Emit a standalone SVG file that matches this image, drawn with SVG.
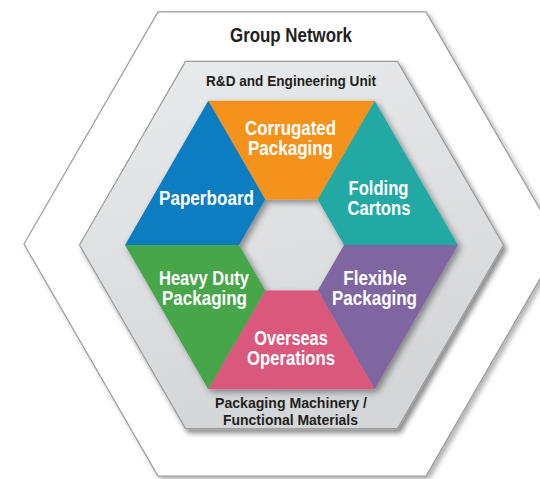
<svg xmlns="http://www.w3.org/2000/svg" width="540" height="479" viewBox="0 0 540 479">
<style>
.lbl{font-family:"Liberation Sans",Arial,sans-serif;font-weight:bold;text-anchor:middle}
.w{fill:#ffffff;font-size:20px}
.d{fill:#231f20}
.hexline{stroke:#9b9b9b;stroke-width:1.2;stroke-linejoin:miter}
</style>
<defs>
<filter id="shOuter" x="-10%" y="-10%" width="125%" height="125%">
<feDropShadow dx="3" dy="3" stdDeviation="2.5" flood-color="#000" flood-opacity="0.3"/>
</filter>
<filter id="shGray" x="-10%" y="-10%" width="125%" height="125%">
<feDropShadow dx="3" dy="4" stdDeviation="2.5" flood-color="#000" flood-opacity="0.45"/>
</filter>
<filter id="shSeg" x="-10%" y="-10%" width="125%" height="125%">
<feDropShadow dx="3" dy="3" stdDeviation="3" flood-color="#000" flood-opacity="0.4"/>
</filter>
<linearGradient id="gGray" x1="0" y1="0" x2="0.3" y2="1">
<stop offset="0" stop-color="#eaebed"/>
<stop offset="1" stop-color="#d5d6d8"/>
</linearGradient>
</defs>
<rect width="540" height="479" fill="#ffffff"/>

<g id="group-network">
<polygon class="hexline" fill="#ffffff" filter="url(#shOuter)" points="24,244 158,11.9 426,11.9 560,244 426,476.1 158,476.1"/>
<text class="lbl d" x="291" y="42" font-size="20" textLength="122" lengthAdjust="spacingAndGlyphs">Group Network</text>
</g>

<g id="rd-engineering-unit">
<polygon class="hexline" fill="url(#gGray)" filter="url(#shGray)" points="79.5,245 185.5,61.4 397.5,61.4 503.5,245 397.5,428.6 185.5,428.6"/>
<text class="lbl d" x="291" y="86" font-size="15" textLength="170" lengthAdjust="spacingAndGlyphs">R&amp;D and Engineering Unit</text>
</g>

<g id="packaging-machinery">
<text class="lbl d" x="291" y="408" font-size="14.5" textLength="152" lengthAdjust="spacingAndGlyphs">Packaging Machinery /</text>
<text class="lbl d" x="290.5" y="424.5" font-size="14.5" textLength="135" lengthAdjust="spacingAndGlyphs">Functional Materials</text>
</g>

<g id="segments" filter="url(#shSeg)">
<g id="corrugated-packaging">
<polygon fill="#f5921e" points="208.25,100.8 374.75,100.8 317.75,199.5 265.25,199.5"/>
</g>
<g id="folding-cartons">
<polygon fill="#22a9a4" points="374.75,100.8 458,245 344,245 317.75,199.5"/>
</g>
<g id="flexible-packaging">
<polygon fill="#8066a1" points="458,245 374.75,389.2 317.75,290.5 344,245"/>
</g>
<g id="overseas-operations">
<polygon fill="#d9587b" points="374.75,389.2 208.25,389.2 265.25,290.5 317.75,290.5"/>
</g>
<g id="heavy-duty-packaging">
<polygon fill="#46a649" points="208.25,389.2 125,245 239,245 265.25,290.5"/>
</g>
<g id="paperboard">
<polygon fill="#0e7dc2" points="125,245 208.25,100.8 265.25,199.5 239,245"/>
</g>
</g>

<g id="segment-labels">
<text class="lbl w" x="290.5" y="135" textLength="91" lengthAdjust="spacingAndGlyphs">Corrugated</text>
<text class="lbl w" x="290.5" y="155" textLength="85" lengthAdjust="spacingAndGlyphs">Packaging</text>
<text class="lbl w" x="378.5" y="195" textLength="60" lengthAdjust="spacingAndGlyphs">Folding</text>
<text class="lbl w" x="379" y="215" textLength="63" lengthAdjust="spacingAndGlyphs">Cartons</text>
<text class="lbl w" x="206.5" y="205" textLength="95" lengthAdjust="spacingAndGlyphs">Paperboard</text>
<text class="lbl w" x="204" y="285" textLength="90" lengthAdjust="spacingAndGlyphs">Heavy Duty</text>
<text class="lbl w" x="204.5" y="305" textLength="85" lengthAdjust="spacingAndGlyphs">Packaging</text>
<text class="lbl w" x="375" y="285" textLength="63.5" lengthAdjust="spacingAndGlyphs">Flexible</text>
<text class="lbl w" x="374.5" y="305" textLength="85" lengthAdjust="spacingAndGlyphs">Packaging</text>
<text class="lbl w" x="291" y="345" textLength="73.5" lengthAdjust="spacingAndGlyphs">Overseas</text>
<text class="lbl w" x="291" y="365" textLength="88" lengthAdjust="spacingAndGlyphs">Operations</text>
</g>
</svg>
